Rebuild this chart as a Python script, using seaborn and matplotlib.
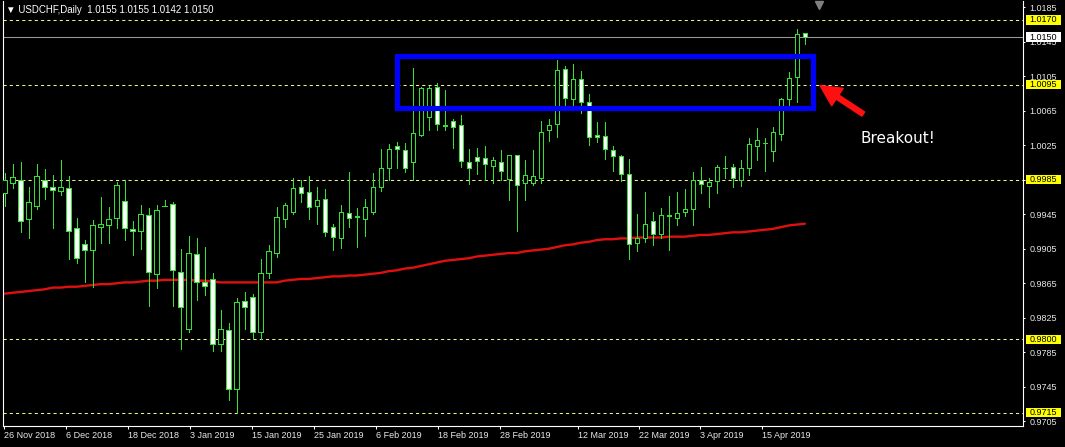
import numpy as np
import pandas as pd
import matplotlib
matplotlib.use('Agg')
import matplotlib.pyplot as plt
from matplotlib.patches import Rectangle
import seaborn as sns

# daily USDCHF candles (bar 0 = leftmost visible)
opens = [
    0.9970, 0.9981, 0.9985, 0.9940, 0.9954, 0.9985, 0.9977, 0.9972, 0.9975, 0.9929,
    0.9911, 0.9904, 0.9930, 0.9932, 0.9941, 0.9960, 0.9928, 0.9926, 0.9944, 0.9876,
    0.9954, 0.9957, 0.9878, 0.9812, 0.9899, 0.9867, 0.9870, 0.9795, 0.9811, 0.9742,
    0.9845, 0.9849, 0.9809, 0.9877, 0.9900, 0.9940, 0.9948, 0.9976, 0.9971, 0.9954,
    0.9963, 0.9930, 0.9917, 0.9946, 0.9942, 0.9940, 0.9947, 0.9977, 0.9999, 1.0024,
    1.0019, 1.0005, 1.0037, 1.0058, 1.0092, 1.0047, 1.0053, 1.0048, 1.0006, 1.0011,
    1.0010, 1.0001, 1.0005, 0.9986, 1.0014, 0.9981, 0.9981, 0.9987, 1.0042, 1.0049,
    1.0113, 1.0078, 1.0102, 1.0075, 1.0037, 1.0036, 1.0019, 1.0013, 0.9992, 0.9912,
    0.9917, 0.9937, 0.9922, 0.9943, 0.9941, 0.9947, 0.9951, 0.9985, 0.9978, 0.9983,
    0.9998, 1.0000, 0.9985, 0.9999, 1.0024, 1.0027, 1.0018, 1.0038, 1.0079, 1.0104,
    1.0155]
highs = [
    0.9993, 1.0003, 1.0005, 0.9977, 1.0003, 0.9997, 0.9990, 1.0008, 0.9989, 0.9941,
    0.9915, 0.9938, 0.9965, 0.9953, 0.9982, 0.9985, 0.9937, 0.9956, 0.9952, 0.9956,
    0.9962, 0.9959, 0.9905, 0.9920, 0.9917, 0.9907, 0.9877, 0.9834, 0.9819, 0.9848,
    0.9855, 0.9853, 0.9893, 0.9909, 0.9953, 0.9958, 0.9987, 0.9985, 0.9989, 0.9976,
    0.9974, 0.9934, 0.9956, 0.9994, 0.9952, 0.9963, 0.9993, 1.0020, 1.0026, 1.0029,
    1.0027, 1.0114, 1.0092, 1.0093, 1.0097, 1.0089, 1.0055, 1.0060, 1.0021, 1.0022,
    1.0024, 1.0011, 1.0019, 1.0014, 1.0014, 1.0008, 1.0019, 1.0053, 1.0055, 1.0124,
    1.0117, 1.0119, 1.0111, 1.0084, 1.0052, 1.0052, 1.0024, 1.0014, 1.0009, 0.9945,
    0.9971, 0.9948, 0.9952, 0.9966, 0.9971, 0.9974, 0.9994, 1.0000, 0.9987, 1.0002,
    1.0012, 1.0003, 1.0008, 1.0033, 1.0045, 1.0033, 1.0046, 1.0080, 1.0110, 1.0160,
    1.0155]
lows = [
    0.9954, 0.9975, 0.9924, 0.9917, 0.9951, 0.9963, 0.9929, 0.9967, 0.9893, 0.9889,
    0.9867, 0.9861, 0.9912, 0.9912, 0.9929, 0.9915, 0.9898, 0.9905, 0.9839, 0.9860,
    0.9954, 0.9839, 0.9789, 0.9809, 0.9846, 0.9851, 0.9787, 0.9787, 0.9730, 0.9715,
    0.9812, 0.9800, 0.9801, 0.9871, 0.9896, 0.9930, 0.9945, 0.9959, 0.9939, 0.9934,
    0.9920, 0.9904, 0.9906, 0.9930, 0.9907, 0.9920, 0.9945, 0.9972, 0.9985, 0.9998,
    0.9994, 0.9985, 1.0036, 1.0042, 1.0042, 1.0042, 1.0022, 1.0000, 0.9980, 0.9992,
    0.9985, 0.9981, 0.9985, 0.9961, 0.9926, 0.9962, 0.9979, 0.9981, 1.0030, 1.0035,
    1.0071, 1.0071, 1.0062, 1.0025, 1.0029, 1.0009, 0.9995, 0.9984, 0.9893, 0.9902,
    0.9913, 0.9909, 0.9917, 0.9903, 0.9933, 0.9943, 0.9932, 0.9970, 0.9953, 0.9970,
    0.9987, 0.9977, 0.9978, 0.9990, 1.0008, 0.9995, 1.0007, 1.0031, 1.0070, 1.0075,
    1.0142]
closes = [
    0.9985, 0.9988, 0.9937, 0.9959, 0.9989, 0.9976, 0.9973, 0.9976, 0.9926, 0.9894,
    0.9903, 0.9932, 0.9934, 0.9939, 0.9979, 0.9929, 0.9925, 0.9945, 0.9878, 0.9950,
    0.9955, 0.9880, 0.9838, 0.9900, 0.9866, 0.9862, 0.9795, 0.9812, 0.9743, 0.9843,
    0.9837, 0.9808, 0.9877, 0.9902, 0.9942, 0.9956, 0.9975, 0.9970, 0.9953, 0.9962,
    0.9924, 0.9919, 0.9947, 0.9941, 0.9943, 0.9953, 0.9977, 0.9998, 1.0021, 1.0021,
    0.9999, 1.0039, 1.0091, 1.0091, 1.0049, 1.0048, 1.0046, 1.0007, 0.9999, 1.0007,
    1.0003, 1.0008, 0.9995, 1.0014, 0.9979, 0.9990, 0.9989, 1.0040, 1.0048, 1.0112,
    1.0080, 1.0102, 1.0075, 1.0035, 1.0034, 1.0020, 1.0012, 0.9992, 0.9911, 0.9918,
    0.9934, 0.9922, 0.9944, 0.9944, 0.9946, 0.9951, 0.9985, 0.9980, 0.9982, 1.0000,
    0.9999, 0.9987, 0.9998, 1.0026, 1.0031, 1.0028, 1.0040, 1.0078, 1.0103, 1.0154,
    1.0150]
# red moving average
ma = [
    0.9853, 0.9854, 0.9855, 0.9856, 0.9857, 0.9858, 0.9860, 0.9860, 0.9861, 0.9861,
    0.9862, 0.9863, 0.9864, 0.9864, 0.9865, 0.9866, 0.9866, 0.9867, 0.9868, 0.9868,
    0.9869, 0.9869, 0.9869, 0.9869, 0.9868, 0.9868, 0.9867, 0.9866, 0.9866, 0.9866,
    0.9866, 0.9866, 0.9866, 0.9866, 0.9866, 0.9868, 0.9869, 0.9870, 0.9870, 0.9871,
    0.9872, 0.9873, 0.9873, 0.9874, 0.9874, 0.9875, 0.9876, 0.9877, 0.9879, 0.9880,
    0.9882, 0.9883, 0.9885, 0.9887, 0.9889, 0.9891, 0.9892, 0.9893, 0.9894, 0.9896,
    0.9897, 0.9898, 0.9899, 0.9900, 0.9900, 0.9902, 0.9903, 0.9904, 0.9905, 0.9907,
    0.9909, 0.9910, 0.9912, 0.9913, 0.9915, 0.9916, 0.9916, 0.9917, 0.9917, 0.9918,
    0.9918, 0.9918, 0.9918, 0.9919, 0.9919, 0.9919, 0.9920, 0.9921, 0.9921, 0.9922,
    0.9923, 0.9924, 0.9924, 0.9925, 0.9926, 0.9927, 0.9928, 0.9930, 0.9932, 0.9933,
    0.9934]

levels = [1.0170, 1.0095, 0.9985, 0.9800, 0.9715]
bid = 1.0150
price_ticks = [1.0185, 1.0145, 1.0105, 1.0065, 1.0025, 0.9985, 0.9945,
               0.9905, 0.9865, 0.9825, 0.9785, 0.9745, 0.9705]
date_labels = ['26 Nov 2018', '6 Dec 2018', '18 Dec 2018', '3 Jan 2019', '15 Jan 2019',
               '25 Jan 2019', '6 Feb 2019', '18 Feb 2019', '28 Feb 2019', '12 Mar 2019',
               '22 Mar 2019', '3 Apr 2019', '15 Apr 2019']
date_ticks = [-0.09, 7.66, 15.45, 23.16, 30.87, 38.66, 46.41, 54.12, 61.91,
              71.70, 79.29, 86.95, 94.62]

df = pd.DataFrame({'open': opens, 'high': highs, 'low': lows, 'close': closes, 'ma': ma})
df['bar'] = np.arange(len(df))

sns.set_theme(style='dark', rc={'axes.facecolor': 'black', 'figure.facecolor': 'black'})
plt.rcParams['font.family'] = ['Liberation Sans', 'DejaVu Sans']

green = '#33e033'
W, H = 1065, 447
fig = plt.figure(figsize=(W / 100, H / 100), dpi=100, facecolor='black')
ax = fig.add_axes([3 / W, 1 - 425.7 / H, 1020.3 / W, 424.7 / H])
ax.set_facecolor('black')

for lvl in levels:
    ax.axhline(lvl, color='#f2f28c', lw=0.75, ls=(0, (3, 3)), zorder=1.5)
ax.axhline(bid, color='#9a9a9a', lw=0.75, zorder=1.5)

sns.lineplot(data=df, x='bar', y='ma', color='#e01010', lw=1.7, ax=ax, zorder=2)

# candles
ax.vlines(df['bar'], df['low'], df['high'], color=green, lw=0.72,
          antialiased=False, zorder=3)
bull = df['close'] >= df['open']
body_lo = df[['open', 'close']].min(axis=1)
body_h = (df['close'] - df['open']).abs().clip(lower=0.00002)
ax.bar(df['bar'], body_h, bottom=body_lo, width=0.56,
       color=np.where(bull, 'black', 'white'), edgecolor=green, linewidth=0.72,
       antialiased=False, zorder=4)

ax.set_xlim(-0.21, 127.3)
ax.set_ylim(0.9700, 1.0192)
ax.set_xlabel('')
ax.set_ylabel('')

ax.yaxis.tick_right()
ax.set_yticks(price_ticks)
ax.set_yticklabels([f'{p:.4f}' for p in price_ticks])
ax.set_xticks(date_ticks)
ax.set_xticklabels(date_labels, ha='left')
ax.tick_params(axis='both', colors='white', labelcolor='#e8e8e8', labelsize=6.5,
               width=0.75, direction='out', bottom=True, right=True, left=False,
               labelright=True, labelleft=False)
ax.tick_params(axis='y', length=1.6, pad=3)
ax.tick_params(axis='x', length=2.2, pad=1.5)
ax.grid(False)

for side in ['left', 'bottom', 'right']:
    ax.spines[side].set_visible(True)
    ax.spines[side].set_color('white')
    ax.spines[side].set_linewidth(0.8)
ax.spines['top'].set_visible(False)

# highlighted price labels on the right scale
ytr = ax.get_yaxis_transform()
for lvl in levels:
    ax.add_patch(Rectangle((1.0023, lvl - 0.00055), 0.0343, 0.0011, transform=ytr,
                           facecolor='#ffff00', edgecolor='none', clip_on=False, zorder=6))
    ax.text(1.0062, lvl, f'{lvl:.4f}', transform=ytr, va='center', ha='left',
            fontsize=6.5, color='black', clip_on=False, zorder=7)
ax.add_patch(Rectangle((1.0023, bid - 0.00058), 0.0343, 0.00116, transform=ytr,
                       facecolor='white', edgecolor='none', clip_on=False, zorder=6))
ax.text(1.0062, bid, f'{bid:.4f}', transform=ytr, va='center', ha='left',
        fontsize=6.5, color='black', clip_on=False, zorder=7)

# breakout box, arrow and note
ax.add_patch(Rectangle((49.0, 1.0068), 52.0, 0.0060, fill=False, edgecolor='#0000ff',
                       lw=3.7, joinstyle='miter', zorder=5))
ax.annotate('', xy=(101.9, 1.0094), xytext=(107.3, 1.0061),
            arrowprops=dict(facecolor='#ff1010', edgecolor='#ff1010', width=3.6,
                            headwidth=15, headlength=15, shrink=0), zorder=6)
ax.text(106.9, 1.0033, 'Breakout!', color='white', fontsize=11, family='DejaVu Sans',
        va='center', ha='left', zorder=6)

# chart shift marker
ax.plot([101.8], [0.99], transform=ax.get_xaxis_transform(), marker='v', ms=6,
        color='#808080', clip_on=False, zorder=6)

fig.text(6 / W, 1 - 10 / H, '\u25bc USDCHF,Daily  1.0155 1.0155 1.0142 1.0150',
         color='white', fontsize=7, va='center', ha='left',
         family=['Liberation Sans', 'DejaVu Sans'])

fig.savefig('out.png', dpi=100, facecolor='black')
